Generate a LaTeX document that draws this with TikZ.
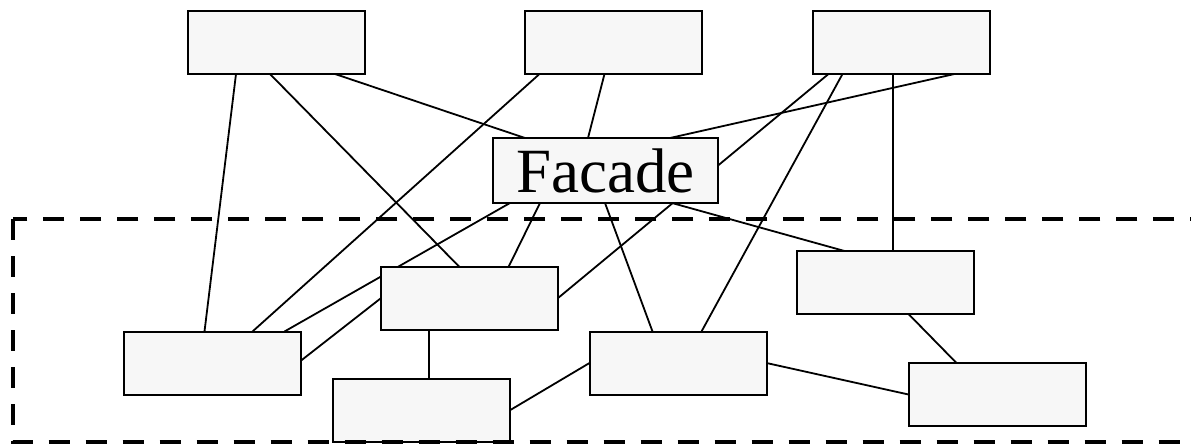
\documentclass[tikz,border=0pt]{standalone}
\usepackage{fontspec}
\setmainfont{Liberation Serif}
\usetikzlibrary{backgrounds}
\begin{document}
\begin{tikzpicture}[x=1pt,y=-1pt,
  box/.style={draw=black,line width=2pt,fill=boxgray,minimum width=177pt,minimum height=63pt,inner sep=0pt,outer sep=0pt},
  link/.style={draw=black,line width=1.8pt},
  region/.style={draw=black,line width=4pt,dash pattern=on 21pt off 16pt}]
\definecolor{boxgray}{RGB}{247,247,247}
\clip (0,0) rectangle (1191,444);
% boxes
\node[box] (t1) at (276.5,42.5) {};
\node[box] (t2) at (613,42.5) {};
\node[box] (t3) at (901,42.5) {};
\node[box] (bl) at (212,363) {};
\node[box] (mid) at (469,298.5) {};
\node[box] (low) at (421,410.5) {};
\node[box] (bc) at (678,363) {};
\node[box] (rb) at (885,282.5) {};
\node[box] (br) at (997,394.5) {};
\node[box,minimum width=225pt,minimum height=65pt,font=\fontsize{63}{63}\selectfont] (fac) at (605.5,170.5) {Facade};
% connectors, kept beneath the boxes
\begin{pgfonlayer}{background}
\fill[white] (0,0) rectangle (1191,444);
\draw[link] ([xshift=48pt]t1.south west) -- ([xshift=81pt]bl.north west);
\draw[link] ([xshift=82pt]t1.south west) -- ([xshift=79pt]mid.north west);
\draw[link] ([xshift=147pt]t1.south west) -- ([xshift=32pt]fac.north west);
\draw[link] ([xshift=15pt]t2.south west) -- ([xshift=129pt]bl.north west);
\draw[link] ([xshift=80pt]t2.south west) -- ([xshift=95pt]fac.north west);
\draw[link] ([xshift=16pt]t3.south west) -- (mid.east);
\draw[link] ([xshift=30pt]t3.south west) -- ([xshift=112pt]bc.north west);
\draw[link] ([xshift=80.5pt]t3.south west) -- ([xshift=96.5pt]rb.north west);
\draw[link] ([xshift=142pt]t3.south west) -- ([xshift=177pt]fac.north west);
\draw[link] ([xshift=17pt]fac.south west) -- ([xshift=161pt]bl.north west);
\draw[link] ([xshift=47pt]fac.south west) -- ([xshift=128pt]mid.north west);
\draw[link] ([xshift=112pt]fac.south west) -- ([xshift=63pt]bc.north west);
\draw[link] ([xshift=179pt]fac.south west) -- ([xshift=48pt]rb.north west);
\draw[link] ([yshift=2pt]bl.east) -- (mid.west);
\draw[link] ([xshift=48.5pt]mid.south west) -- ([xshift=96.5pt]low.north west);
\draw[link] (low.east) -- (bc.west);
\draw[link] (bc.east) -- (br.west);
\draw[link] ([xshift=112pt]rb.south west) -- ([xshift=48pt]br.north west);
\end{pgfonlayer}
% subsystem boundary
\draw[region] (12.7,219) rectangle (1240,442);
\end{tikzpicture}
\end{document}
